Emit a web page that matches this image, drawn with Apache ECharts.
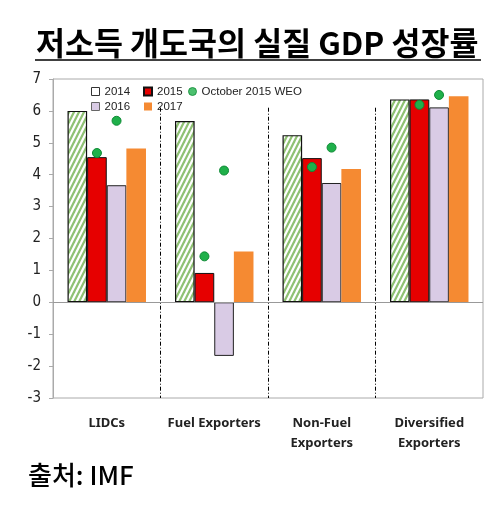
<!DOCTYPE html>
<html><head><meta charset="utf-8">
<script src="https://cdn.jsdelivr.net/npm/echarts@6/dist/echarts.min.js"></script>
<style>html,body{margin:0;padding:0;background:#fff}#c{width:504px;height:505px}</style>
</head><body><div id="c"></div>
<script>
const categories = ['LIDCs', 'Fuel Exporters', 'Non-Fuel\nExporters', 'Diversified\nExporters'];
const v2014 = [6.0, 5.68, 5.24, 6.36];
const v2015 = [4.55, 0.92, 4.52, 6.36];
const v2016 = [3.67, -1.68, 3.74, 6.11];
const v2017 = [4.82, 1.59, 4.18, 6.46];
const weo2015 = [4.68, 1.44, 4.24, 6.19];
const weo2016 = [5.69, 4.13, 4.85, 6.5];
const yTicks = [-3, -2, -1, 0, 1, 2, 3, 4, 5, 6, 7];
const separators = [1, 2, 3];

function hatch() {
  const c = document.createElement('canvas');
  c.width = 5; c.height = 10;
  const g = c.getContext('2d');
  g.fillStyle = '#ffffff'; g.fillRect(0, 0, 5, 10);
  g.strokeStyle = '#8fc273'; g.lineWidth = 2.2;
  for (const dx of [-5, 0, 5]) {
    g.beginPath(); g.moveTo(-5 + dx, 20); g.lineTo(10 + dx, -10); g.stroke();
  }
  return c;
}
const dotStyle = { color: '#1fb04a', borderColor: '#0e8a35', borderWidth: 1 };
function dots(vals) {
  return {
    symbol: 'circle', symbolSize: 9, label: { show: false },
    itemStyle: dotStyle, silent: true,
    data: vals.map((v, i) => ({ coord: [i, v] }))
  };
}
const legendFont = { fontSize: 11.5, lineHeight: 13, color: '#222', fontFamily: '"Liberation Sans"' };
const legendBase = { top: 85, orient: 'vertical', itemWidth: 8, itemHeight: 8, itemGap: 2, icon: 'rect', textStyle: legendFont, padding: 0 };

const chart = echarts.init(document.getElementById('c'));
chart.setOption({
  animation: false,
  textStyle: { fontFamily: 'Noto Sans' },
  graphic: [
    { type: 'text', left: 36, top: 27, style: { text: '저소득 개도국의 실질 GDP 성장률', font: 'bold 31.5px "Noto Sans CJK KR"', fill: '#000' } },
    { type: 'line', shape: { x1: 35, y1: 60, x2: 481, y2: 60 }, style: { stroke: '#000', lineWidth: 1.5 } },
    { type: 'text', left: 28, top: 462, style: { text: '출처: IMF', font: '500 26px "Noto Sans CJK KR"', fill: '#000' } }
  ],
  legend: [
    Object.assign({}, legendBase, { left: 91, data: [
      { name: '2014', itemStyle: { color: '#fff', borderColor: '#333', borderWidth: 1 } },
      { name: '2016', itemStyle: { color: '#d9cbe5', borderColor: '#666', borderWidth: 1 } }] }),
    Object.assign({}, legendBase, { left: 143, data: [{ name: '2015' }, { name: '2017' }] }),
    Object.assign({}, legendBase, { left: 188, data: [{ name: 'October 2015 WEO', icon: 'circle', itemStyle: dotStyle }] })
  ],
  grid: { left: 53, right: 21, top: 79, bottom: 107, show: true, borderColor: '#aaa', borderWidth: 1 },
  xAxis: [
    { type: 'category', data: categories, axisLine: { show: false }, axisTick: { show: false },
      axisLabel: { fontSize: 13, fontWeight: 'bold', color: '#222', margin: 15, lineHeight: 20, interval: 0 } },
    { type: 'value', min: 0, max: 4, show: false }
  ],
  yAxis: {
    type: 'value', min: -3, max: 7, interval: 1,
    axisLine: { show: true, onZero: false, lineStyle: { color: '#aaa' } },
    axisTick: { show: true, length: 4, lineStyle: { color: '#aaa' } },
    splitLine: { show: false },
    axisLabel: { fontSize: 15, color: '#222', margin: 12, fontFamily: 'DejaVu Sans Condensed' }
  },
  series: [
    { name: '2014', type: 'bar', data: v2014, barGap: '0%', barCategoryGap: '27%',
      itemStyle: { color: { image: hatch(), repeat: 'repeat' }, borderColor: '#111', borderWidth: 1.2 } },
    { name: '2015', type: 'bar', data: v2015,
      itemStyle: { color: '#e60000', borderColor: '#111', borderWidth: 1 }, markPoint: dots(weo2015) },
    { name: '2016', type: 'bar', data: v2016,
      itemStyle: { color: '#d9cbe5', borderColor: '#222', borderWidth: 1 }, markPoint: dots(weo2016) },
    { name: '2017', type: 'bar', data: v2017, itemStyle: { color: '#f58a32' } },
    { name: 'October 2015 WEO', type: 'scatter', data: [], itemStyle: dotStyle },
    { name: 'sep', type: 'line', xAxisIndex: 1, data: [], silent: true,
      markLine: { symbol: 'none', silent: true, label: { show: false },
        lineStyle: { color: '#000', width: 1, type: [4, 2, 1, 2] },
        data: separators.map(s => [{ coord: [s, 6.1] }, { coord: [s, -3] }]) } },
    { name: 'zero', type: 'line', xAxisIndex: 1, data: [], silent: true,
      markLine: { symbol: 'none', silent: true, label: { show: false },
        lineStyle: { color: '#999', width: 1, type: 'solid' },
        data: [[{ coord: [0, 0] }, { coord: [4, 0] }]] } }
  ]
});
</script></body></html>
